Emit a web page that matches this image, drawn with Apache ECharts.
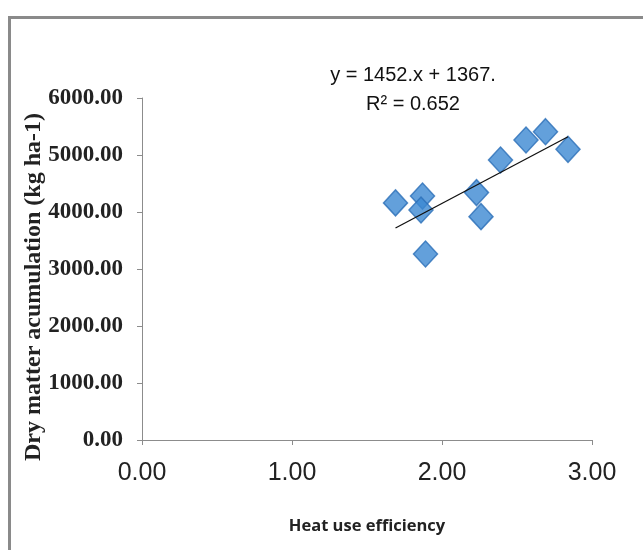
<html lang="en">
<head>
<meta charset="UTF-8">
<title>Dry matter vs heat use efficiency</title>
<style>
    body { margin: 0; background: #fff; }
    #echart { width: 643px; height: 550px; }
</style>
</head>
<body>
<div id="echart"></div>
<script src="https://cdn.jsdelivr.net/npm/echarts@6/dist/echarts.min.js"></script>
<script>
    // heat use efficiency (x) and dry matter accumulation (y, kg ha-1)
    const heatUse = [1.69, 1.87, 1.86, 1.89, 2.23, 2.26, 2.39, 2.56, 2.69, 2.84]
    const dryMatter = [4160, 4280, 4035, 3263, 4340, 3918, 4912, 5263, 5409, 5100]
    const xTicks = [0, 1, 2, 3]
    const yTicks = [0, 1000, 2000, 3000, 4000, 5000, 6000]
    const equationText = 'y = 1452.x + 1367.'
    const r2Text = 'R² = 0.652'

    // linear trend line through the points
    const n = heatUse.length
    const mx = heatUse.reduce((a, b) => a + b, 0) / n
    const my = dryMatter.reduce((a, b) => a + b, 0) / n
    let sxx = 0, sxy = 0
    heatUse.forEach((x, i) => {
        sxx += (x - mx) * (x - mx)
        sxy += (x - mx) * (dryMatter[i] - my)
    })
    const slope = sxy / sxx
    const icpt = my - slope * mx
    const xMin = Math.min(...heatUse), xMax = Math.max(...heatUse)
    const trend = [[xMin, icpt + slope * xMin], [xMax, icpt + slope * xMax]]

    const eqFont = '20px "Liberation Sans", sans-serif'

    const echart = echarts.init(document.getElementById('echart'))
    echart.setOption({
        animation: false,
        graphic: [{
            type: 'rect',
            left: 7, top: 15,
            shape: { width: 700, height: 600 },
            style: { fill: 'none', stroke: '#8a8a8a', lineWidth: 3 }
        }, {
            type: 'text',
            x: 413, y: 75,
            style: { text: equationText, font: eqFont, fill: '#111', align: 'center', verticalAlign: 'middle' }
        }, {
            type: 'text',
            x: 413, y: 104,
            style: { text: r2Text, font: eqFont, fill: '#111', align: 'center', verticalAlign: 'middle' }
        }],
        grid: { left: 142, right: 51, top: 98, bottom: 110 },
        xAxis: {
            type: 'value',
            min: xTicks[0], max: xTicks[xTicks.length - 1], interval: 1,
            name: 'Heat use efficiency',
            nameLocation: 'middle', nameGap: 78, nameMoveOverlap: false,
            nameTextStyle: { fontFamily: '"Open Sans", sans-serif', fontSize: 16.5, fontWeight: 'bold', color: '#222' },
            axisLine: { lineStyle: { color: '#8c8c8c', width: 1 } },
            axisTick: { show: true, inside: false, length: 5, lineStyle: { color: '#8c8c8c' } },
            axisLabel: {
                formatter: v => v.toFixed(2),
                fontFamily: '"Liberation Sans", sans-serif',
                fontSize: 25, color: '#222', margin: 21
            },
            splitLine: { show: false }
        },
        yAxis: {
            type: 'value',
            min: yTicks[0], max: yTicks[yTicks.length - 1], interval: 1000,
            name: 'Dry matter acumulation (kg ha-1)',
            nameLocation: 'middle', nameGap: 96, nameMoveOverlap: false,
            nameTextStyle: { fontFamily: '"Liberation Serif", serif', fontSize: 24, fontWeight: 'bold', color: '#222', padding: [0, 36, 0, 0] },
            axisLine: { show: true, lineStyle: { color: '#8c8c8c', width: 1 } },
            axisTick: { show: true, inside: false, length: 5, lineStyle: { color: '#8c8c8c' } },
            axisLabel: {
                formatter: v => v.toFixed(2),
                fontFamily: '"Liberation Serif", serif',
                fontSize: 23, fontWeight: 'bold', color: '#222', margin: 19
            },
            splitLine: { show: false }
        },
        series: [{
            type: 'line',
            data: trend,
            symbol: 'none',
            lineStyle: { color: '#111', width: 1.3 },
            z: 3
        }, {
            type: 'scatter',
            data: heatUse.map((x, i) => [x, dryMatter[i]]),
            symbol: 'diamond',
            symbolSize: [24, 26],
            itemStyle: { color: '#3c88d2', borderColor: '#2c6fb8', borderWidth: 1.5 },
            z: 2
        }]
    })
</script>
</body>
</html>
